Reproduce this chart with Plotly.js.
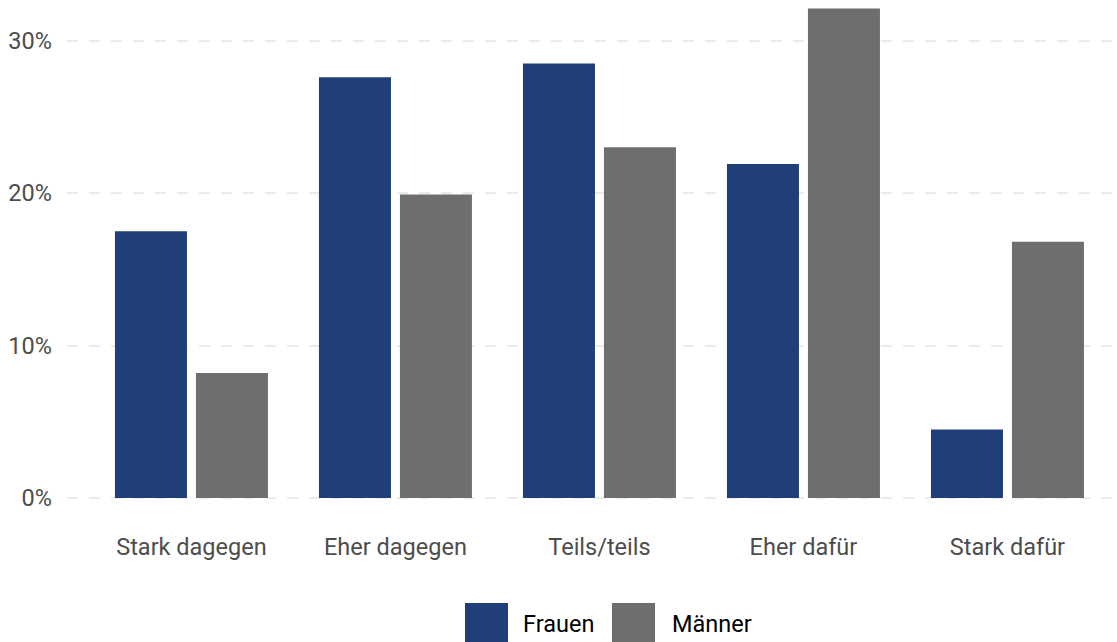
<!DOCTYPE html>
<html>
<head>
<meta charset="utf-8">
<script src="https://cdn.plot.ly/plotly-3.0.1.min.js"></script>
<style>html,body{margin:0;padding:0;background:#fff}#chart{width:1117px;height:642px}</style>
</head>
<body>
<div id="chart"></div>
<script>
const categories = ["Stark dagegen", "Eher dagegen", "Teils/teils", "Eher dafür", "Stark dafür"];
const frauen = [17.5, 27.6, 28.5, 21.9, 4.5];
const maenner = [8.2, 19.9, 23.0, 32.1, 16.8];
const seriesNames = ["Frauen", "Männer"];
const colors = ["#203f78", "#6e6e6e"];
const yTicks = [0, 10, 20, 30];

const W = 1117, H = 642, L = 67, R = 0, T = 0, B = 120;
const pw = W - L - R, ph = H - T - B;
const px = x => (x - L) / pw;
const py = y => (H - B - y) / ph;
const FS = 23.5;

const idx = categories.map((c, i) => i);
const barW = 0.353;
const traces = [
  {type: "bar", name: seriesNames[0], x: idx, y: frauen, width: barW, offset: -0.375,
   marker: {color: colors[0]}, hovertemplate: "%{y}%<extra>Frauen</extra>"},
  {type: "bar", name: seriesNames[1], x: idx, y: maenner, width: barW, offset: 0.022,
   marker: {color: colors[1]}, hovertemplate: "%{y}%<extra>Männer</extra>"}
];

const shapes = [], annotations = [];
const leg = [{x0: 465, text: 521}, {x0: 612, text: 670}];
leg.forEach((l, i) => {
  shapes.push({type: "rect", xref: "paper", yref: "paper", x0: px(l.x0), x1: px(l.x0 + 43),
    y0: py(603), y1: py(646), fillcolor: colors[i], line: {width: 0}, layer: "above"});
  annotations.push({xref: "paper", yref: "paper", x: px(l.text), y: py(624), xanchor: "left",
    yanchor: "middle", text: seriesNames[i], showarrow: false,
    font: {family: "Roboto, sans-serif", size: FS, color: "#000"}});
});

const layout = {
  width: W, height: H,
  margin: {l: L, r: R, t: T, b: B},
  paper_bgcolor: "#fff", plot_bgcolor: "#fff",
  barmode: "overlay",
  showlegend: false,
  font: {family: "Roboto, sans-serif", size: FS, color: "#4d4d4d"},
  xaxis: {
    range: [-0.61, 4.537], tickvals: idx, ticktext: categories,
    showgrid: false, zeroline: false, showline: false, ticks: "",
    ticklabelstandoff: 8,
    tickfont: {family: "Roboto, sans-serif", size: FS, color: "#4d4d4d"}
  },
  yaxis: {
    range: [-1.574, 32.66], tickvals: yTicks, ticktext: yTicks.map(v => v + "%"),
    showgrid: true, gridcolor: "#ebebeb", gridwidth: 2, griddash: "11px,11px",
    zeroline: false, showline: false, ticks: "", ticklabelstandoff: 14,
    tickfont: {family: "Roboto, sans-serif", size: FS, color: "#4d4d4d"}
  },
  shapes: shapes,
  annotations: annotations
};

Plotly.newPlot("chart", traces, layout, {displayModeBar: false, staticPlot: true});
</script>
</body>
</html>
